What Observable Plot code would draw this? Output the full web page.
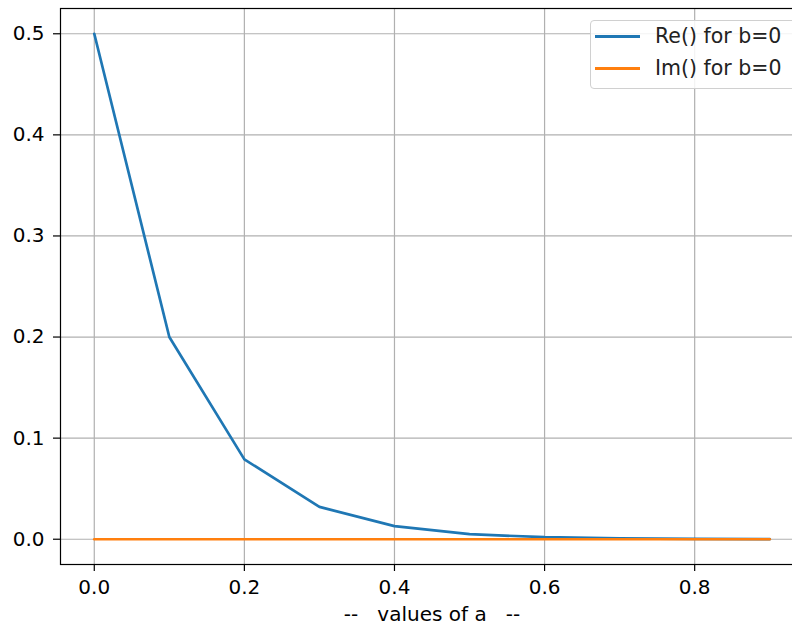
<!DOCTYPE html>
<html>
<head>
<meta charset="utf-8">
<script src="https://cdn.jsdelivr.net/npm/d3@7"></script>
<script src="https://cdn.jsdelivr.net/npm/@observablehq/plot@0.6"></script>
<style>
  html, body { margin: 0; padding: 0; background: white; overflow: hidden; }
  #wrap { position: relative; width: 792px; height: 626px; overflow: hidden; }
  #wrap svg text { white-space: pre; }
  .legend { position: absolute; left: 590px; top: 20px; width: 206px; height: 69px;
    border: 1px solid #d0d0d0; border-radius: 4px; background: rgba(255,255,255,0.85);
    font-family: "DejaVu Sans"; font-size: 20.5px; color: #222; box-sizing: border-box; }
  .item { position: absolute; left: 0; height: 24px; width: 200px; }
  .swatch { position: absolute; left: 4px; width: 45px; height: 2.6px; top: 11px; }
  .lab { position: absolute; left: 64px; top: 0; white-space: pre; line-height: 24px; }
</style>
</head>
<body>
<div id="wrap"></div>
<script>
const aValues = [0.0, 0.1, 0.2, 0.3, 0.4, 0.5, 0.6, 0.7, 0.8, 0.9];
const reValues = [0.5, 0.2, 0.079, 0.032, 0.013, 0.005, 0.002, 0.0008, 0.0003, 0.0001];
const imValues = [0, 0, 0, 0, 0, 0, 0, 0, 0, 0];
const seriesNames = ["Re() for b=0", "Im() for b=0"];
const seriesColors = ["#1f77b4", "#ff7f0e"];
const xTicks = [0.0, 0.2, 0.4, 0.6, 0.8];
const yTicks = [0.0, 0.1, 0.2, 0.3, 0.4, 0.5];
const xLabel = "--   values of a   --";

const re = aValues.map((a, i) => ({a, v: reValues[i]}));
const im = aValues.map((a, i) => ({a, v: imValues[i]}));

const fmt = d3.format(".1f");
const chart = Plot.plot({
  width: 792,
  height: 626,
  marginLeft: 60,
  marginRight: -11,
  marginTop: 8,
  marginBottom: 62,
  style: {fontFamily: "DejaVu Sans", fontSize: "20px", color: "#000", background: "white", maxWidth: "none", overflow: "hidden"},
  x: {domain: [-0.045, 0.945]},
  y: {domain: [-0.025, 0.525]},
  marks: [
    Plot.gridX(xTicks, {stroke: "#b0b0b0", strokeOpacity: 1, strokeWidth: 1.2}),
    Plot.gridY(yTicks, {stroke: "#b0b0b0", strokeOpacity: 1, strokeWidth: 1.2}),
    Plot.line(re, {x: "a", y: "v", stroke: seriesColors[0], strokeWidth: 2.7}),
    Plot.line(im, {x: "a", y: "v", stroke: seriesColors[1], strokeWidth: 2.7}),
    Plot.frame({stroke: "#000", strokeWidth: 1.2}),
    Plot.axisX(xTicks, {tickSize: 7, tickPadding: 8, tickFormat: fmt, label: null, strokeWidth: 1.2}),
    Plot.axisY(yTicks, {tickSize: 7, tickPadding: 9, tickFormat: fmt, label: null, strokeWidth: 1.2}),
    Plot.text([xLabel], {text: d => d, frameAnchor: "bottom", x: () => 0.45, dy: 56, fill: "#000"})
  ]
});
const wrap = document.getElementById("wrap");
wrap.appendChild(chart);

const legend = document.createElement("div");
legend.className = "legend";
seriesNames.forEach((name, i) => {
  const item = document.createElement("div");
  item.className = "item";
  item.style.top = (3 + i * 32) + "px";
  const sw = document.createElement("div");
  sw.className = "swatch";
  sw.style.background = seriesColors[i];
  const lab = document.createElement("div");
  lab.className = "lab";
  lab.textContent = name;
  item.appendChild(sw);
  item.appendChild(lab);
  legend.appendChild(item);
});
wrap.appendChild(legend);
</script>
</body>
</html>
